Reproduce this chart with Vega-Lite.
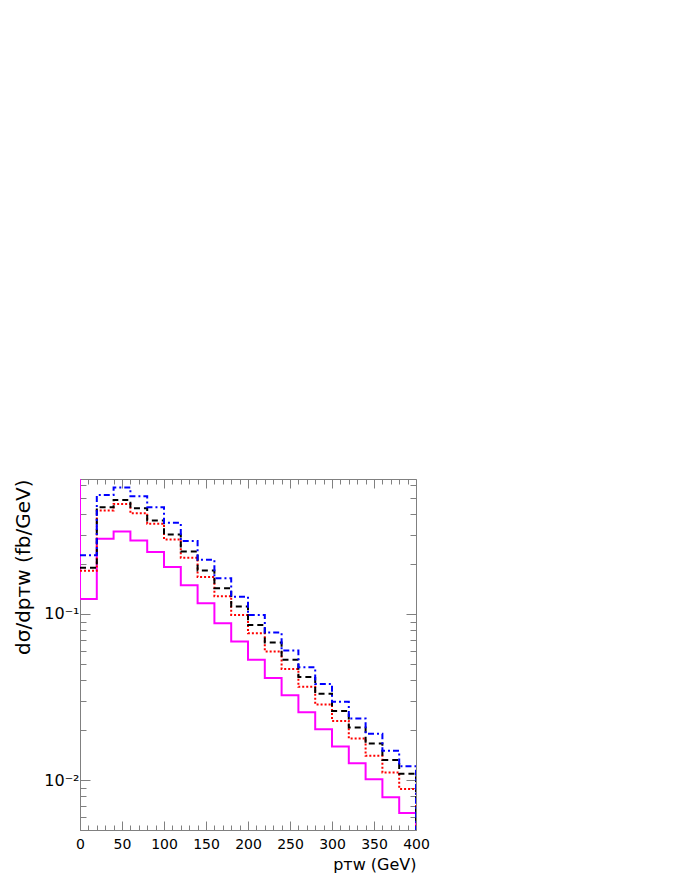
{
  "$schema": "https://vega.github.io/schema/vega-lite/v6.json",
  "autosize": "none",
  "width": 336,
  "height": 351,
  "padding": {"left": 80, "top": 479, "right": 276, "bottom": 66},
  "background": "white",
  "config": {
    "view": {"stroke": "#808080", "strokeWidth": 1},
    "axis": {
      "domainColor": "#808080",
      "tickColor": "#808080",
      "labelColor": "black",
      "labelFont": "DejaVu Sans",
      "titleFont": "DejaVu Sans",
      "titleFontWeight": "normal",
      "titleColor": "black",
      "labelFlush": false,
      "grid": false
    }
  },
  "data": {
    "values": [
      {"s":"m","i":0,"x":0,"v":5},
      {"s":"m","i":1,"x":0,"v":0.123},{"s":"m","i":2,"x":20,"v":0.284},{"s":"m","i":3,"x":40,"v":0.314},{"s":"m","i":4,"x":60,"v":0.277},{"s":"m","i":5,"x":80,"v":0.236},
      {"s":"m","i":6,"x":100,"v":0.192},{"s":"m","i":7,"x":120,"v":0.149},{"s":"m","i":8,"x":140,"v":0.116},{"s":"m","i":9,"x":160,"v":0.088},{"s":"m","i":10,"x":180,"v":0.0683},
      {"s":"m","i":11,"x":200,"v":0.053},{"s":"m","i":12,"x":220,"v":0.0412},{"s":"m","i":13,"x":240,"v":0.0324},{"s":"m","i":14,"x":260,"v":0.0256},{"s":"m","i":15,"x":280,"v":0.0202},
      {"s":"m","i":16,"x":300,"v":0.0159},{"s":"m","i":17,"x":320,"v":0.0126},{"s":"m","i":18,"x":340,"v":0.0101},{"s":"m","i":19,"x":360,"v":0.00787},{"s":"m","i":20,"x":380,"v":0.00634},
      {"s":"m","i":21,"x":400,"v":0.00634},{"s":"m","i":22,"x":400,"v":0.001},

      {"s":"r","i":1,"x":0,"v":0.182},{"s":"r","i":2,"x":20,"v":0.42},{"s":"r","i":3,"x":40,"v":0.46},{"s":"r","i":4,"x":60,"v":0.404},{"s":"r","i":5,"x":80,"v":0.349},
      {"s":"r","i":6,"x":100,"v":0.281},{"s":"r","i":7,"x":120,"v":0.218},{"s":"r","i":8,"x":140,"v":0.167},{"s":"r","i":9,"x":160,"v":0.128},{"s":"r","i":10,"x":180,"v":0.0986},
      {"s":"r","i":11,"x":200,"v":0.0766},{"s":"r","i":12,"x":220,"v":0.0595},{"s":"r","i":13,"x":240,"v":0.0467},{"s":"r","i":14,"x":260,"v":0.0364},{"s":"r","i":15,"x":280,"v":0.0285},
      {"s":"r","i":16,"x":300,"v":0.0227},{"s":"r","i":17,"x":320,"v":0.0178},{"s":"r","i":18,"x":340,"v":0.014},{"s":"r","i":19,"x":360,"v":0.0111},{"s":"r","i":20,"x":380,"v":0.00883},
      {"s":"r","i":21,"x":400,"v":0.00883},{"s":"r","i":22,"x":400,"v":0.001},

      {"s":"k","i":1,"x":0,"v":0.19},{"s":"k","i":2,"x":20,"v":0.439},{"s":"k","i":3,"x":40,"v":0.486},{"s":"k","i":4,"x":60,"v":0.433},{"s":"k","i":5,"x":80,"v":0.366},
      {"s":"k","i":6,"x":100,"v":0.301},{"s":"k","i":7,"x":120,"v":0.238},{"s":"k","i":8,"x":140,"v":0.183},{"s":"k","i":9,"x":160,"v":0.143},{"s":"k","i":10,"x":180,"v":0.111},
      {"s":"k","i":11,"x":200,"v":0.0859},{"s":"k","i":12,"x":220,"v":0.0673},{"s":"k","i":13,"x":240,"v":0.053},{"s":"k","i":14,"x":260,"v":0.0418},{"s":"k","i":15,"x":280,"v":0.0331},
      {"s":"k","i":16,"x":300,"v":0.026},{"s":"k","i":17,"x":320,"v":0.0207},{"s":"k","i":18,"x":340,"v":0.0166},{"s":"k","i":19,"x":360,"v":0.0132},{"s":"k","i":20,"x":380,"v":0.0109},
      {"s":"k","i":21,"x":400,"v":0.0109},{"s":"k","i":22,"x":400,"v":0.001},

      {"s":"b","i":1,"x":0,"v":0.226},{"s":"b","i":2,"x":20,"v":0.521},{"s":"b","i":3,"x":40,"v":0.578},{"s":"b","i":4,"x":60,"v":0.511},{"s":"b","i":5,"x":80,"v":0.439},
      {"s":"b","i":6,"x":100,"v":0.354},{"s":"b","i":7,"x":120,"v":0.275},{"s":"b","i":8,"x":140,"v":0.212},{"s":"b","i":9,"x":160,"v":0.164},{"s":"b","i":10,"x":180,"v":0.127},
      {"s":"b","i":11,"x":200,"v":0.0986},{"s":"b","i":12,"x":220,"v":0.0773},{"s":"b","i":13,"x":240,"v":0.0603},{"s":"b","i":14,"x":260,"v":0.0477},{"s":"b","i":15,"x":280,"v":0.0379},
      {"s":"b","i":16,"x":300,"v":0.0296},{"s":"b","i":17,"x":320,"v":0.0235},{"s":"b","i":18,"x":340,"v":0.019},{"s":"b","i":19,"x":360,"v":0.015},{"s":"b","i":20,"x":380,"v":0.0121},
      {"s":"b","i":21,"x":400,"v":0.0121},{"s":"b","i":22,"x":400,"v":0.001}
    ]
  },
  "resolve": {"axis": {"x": "independent", "y": "independent"}},
  "layer": [
    {
      "mark": {"type": "line", "interpolate": "step-after", "clip": true, "strokeWidth": 2, "opacity": 0},
      "encoding": {
        "x": {"field": "x", "type": "quantitative", "scale": {"domain": [0, 400], "nice": false, "zero": false},
          "axis": {"orient": "top", "values": [0,10,20,30,40,50,60,70,80,90,100,110,120,130,140,150,160,170,180,190,200,210,220,230,240,250,260,270,280,290,300,310,320,330,340,350,360,370,380,390,400],
            "labels": false, "title": null, "domain": false,
            "tickSize": {"condition": {"test": "datum.value % 50 === 0", "value": -9}, "value": -5}}},
        "y": {"field": "v", "type": "quantitative", "scale": {"type": "log", "domain": [0.005, 0.65], "nice": false},
          "axis": {"orient": "right", "values": [0.006,0.007,0.008,0.009,0.01,0.02,0.03,0.04,0.05,0.06,0.07,0.08,0.09,0.1,0.2,0.3,0.4,0.5,0.6],
            "labels": false, "title": null, "domain": false,
            "tickSize": {"condition": {"test": "datum.value === 0.1 || datum.value === 0.01", "value": -10}, "value": -6}}},
        "detail": {"field": "s"},
        "order": {"field": "i"}
      }
    },
    {
      "mark": {"type": "line", "interpolate": "step-after", "clip": true, "strokeWidth": 2},
      "encoding": {
        "x": {"field": "x", "type": "quantitative", "scale": {"domain": [0, 400], "nice": false, "zero": false},
          "axis": {"orient": "bottom", "values": [0,10,20,30,40,50,60,70,80,90,100,110,120,130,140,150,160,170,180,190,200,210,220,230,240,250,260,270,280,290,300,310,320,330,340,350,360,370,380,390,400],
            "labelExpr": "datum.value % 50 === 0 ? datum.label : ''", "labelOverlap": false, "labelFontSize": 14, "labelPadding": 16,
            "tickSize": {"condition": {"test": "datum.value % 50 === 0", "value": -9}, "value": -5},
            "title": "pᴛᴡ (GeV)", "titleAnchor": "end", "titleFontSize": 16, "titlePadding": 1}},
        "y": {"field": "v", "type": "quantitative", "scale": {"type": "log", "domain": [0.005, 0.65], "nice": false},
          "axis": {"orient": "left", "values": [0.006,0.007,0.008,0.009,0.01,0.02,0.03,0.04,0.05,0.06,0.07,0.08,0.09,0.1,0.2,0.3,0.4,0.5,0.6],
            "labelExpr": "datum.value === 0.1 ? '10⁻¹' : (datum.value === 0.01 ? '10⁻²' : '')", "labelOverlap": false, "labelFontSize": 16, "labelPadding": 11,
            "tickSize": {"condition": {"test": "datum.value === 0.1 || datum.value === 0.01", "value": -10}, "value": -6},
            "title": "dσ/dpᴛᴡ (fb/GeV)", "titleAnchor": "end", "titleFontSize": 20, "titlePadding": 10}},
        "color": {"field": "s", "type": "nominal", "scale": {"domain": ["m","r","k","b"], "range": ["#ff00ff","#ff0000","#000000","#0000ff"]}, "legend": null},
        "strokeDash": {"field": "s", "type": "nominal", "scale": {"domain": ["m","r","k","b"], "range": [[1,0],[2,2],[6,4],[6,3,2,3]]}, "legend": null},
        "order": {"field": "i"}
      }
    }
  ]
}
